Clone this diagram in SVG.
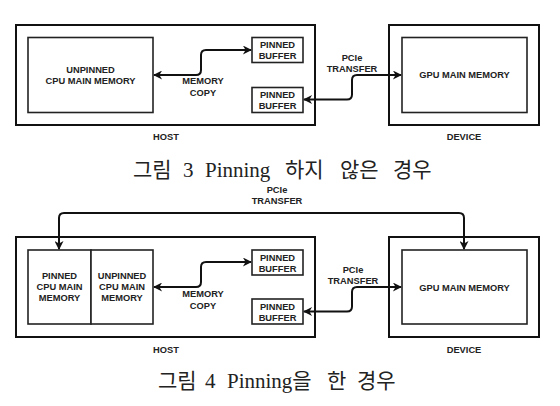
<svg xmlns="http://www.w3.org/2000/svg" width="560" height="406" viewBox="0 0 560 406">
<style>
.outer{fill:#fff;stroke:#111;stroke-width:2}
.box{fill:#fff;stroke:#222;stroke-width:1.6}
.lbl{font-family:'Liberation Sans',Arial,sans-serif;font-size:9.3px;font-weight:bold;fill:#222;text-anchor:middle}
.con{fill:none;stroke:#111;stroke-width:2;marker-start:url(#ah);marker-end:url(#ah)}
.cap{font-family:'Liberation Serif','Noto Sans CJK KR',serif;font-size:21px;fill:#222}
</style>
<defs>
<marker id="ah" viewBox="0 0 10 10" refX="9" refY="5" markerWidth="10" markerHeight="9" markerUnits="userSpaceOnUse" orient="auto-start-reverse">
<path d="M0,0 L10,5 L0,10 L3,5 z" fill="#111"/>
</marker>
</defs>
<rect width="560" height="406" fill="#fff"/>

<!-- Figure 3 -->
<g id="host1"><rect class="outer" x="16" y="25" width="299" height="100"/><text class="lbl" x="166" y="140">HOST</text></g>
<g id="device1"><rect class="outer" x="389" y="25" width="150" height="100"/><text class="lbl" x="464" y="140">DEVICE</text></g>
<g id="cpu1"><rect class="box" x="28" y="37.5" width="125" height="75"/><text class="lbl" x="90.5" y="73">UNPINNED</text><text class="lbl" x="90.5" y="84">CPU MAIN MEMORY</text></g>
<g id="buf1a"><rect class="box" x="252" y="37.5" width="51" height="25"/><text class="lbl" x="277.5" y="48">PINNED</text><text class="lbl" x="277.5" y="59">BUFFER</text></g>
<g id="buf1b"><rect class="box" x="252" y="87.5" width="51" height="25"/><text class="lbl" x="277.5" y="98">PINNED</text><text class="lbl" x="277.5" y="109">BUFFER</text></g>
<g id="gpu1"><rect class="box" x="402" y="37.5" width="125" height="75"/><text class="lbl" x="464.5" y="78">GPU MAIN MEMORY</text></g>
<g id="labels1">
<text class="lbl" x="203" y="84">MEMORY</text><text class="lbl" x="203" y="96">COPY</text>
<text class="lbl" x="352" y="61">PCIe</text><text class="lbl" x="352" y="72">TRANSFER</text>
</g>
<g id="connectors1">
<path class="con" d="M154 75 L196 75 Q201 75 201 70 L201 55 Q201 50 206 50 L251 50"/>
<path class="con" d="M304 99.5 L347 99.5 Q352 99.5 352 94.5 L352 80 Q352 75 357 75 L401 75"/>
</g>
<text class="cap" y="177"><tspan x="133">그림</tspan><tspan x="183">3</tspan><tspan x="205">Pinning</tspan><tspan x="285">하지</tspan><tspan x="340">않은</tspan><tspan x="393">경우</tspan></text>

<!-- Figure 4 -->
<g id="host2"><rect class="outer" x="16" y="237" width="299" height="100"/><text class="lbl" x="166" y="353">HOST</text></g>
<g id="device2"><rect class="outer" x="389" y="237" width="150" height="100"/><text class="lbl" x="464" y="353">DEVICE</text></g>
<g id="pcpu2"><rect class="box" x="28" y="250" width="63" height="74"/><text class="lbl" x="59.5" y="279">PINNED</text><text class="lbl" x="59.5" y="290">CPU MAIN</text><text class="lbl" x="59.5" y="301">MEMORY</text></g>
<g id="ucpu2"><rect class="box" x="91" y="250" width="62" height="74"/><text class="lbl" x="122" y="279">UNPINNED</text><text class="lbl" x="122" y="290">CPU MAIN</text><text class="lbl" x="122" y="301">MEMORY</text></g>
<g id="buf2a"><rect class="box" x="252" y="250" width="51" height="25"/><text class="lbl" x="277.5" y="260.5">PINNED</text><text class="lbl" x="277.5" y="271.5">BUFFER</text></g>
<g id="buf2b"><rect class="box" x="252" y="299" width="51" height="25"/><text class="lbl" x="277.5" y="309.5">PINNED</text><text class="lbl" x="277.5" y="320.5">BUFFER</text></g>
<g id="gpu2"><rect class="box" x="402" y="250" width="125" height="74"/><text class="lbl" x="464.5" y="291">GPU MAIN MEMORY</text></g>
<g id="labels2">
<text class="lbl" x="203" y="297">MEMORY</text><text class="lbl" x="203" y="309">COPY</text>
<text class="lbl" x="353" y="273">PCIe</text><text class="lbl" x="353" y="284">TRANSFER</text>
<text class="lbl" x="277" y="193">PCIe</text><text class="lbl" x="277" y="204">TRANSFER</text>
</g>
<g id="connectors2">
<path class="con" d="M59 249 L59 218 Q59 213 64 213 L459 213 Q464 213 464 218 L464 249"/>
<path class="con" d="M154 287 L196 287 Q201 287 201 282 L201 267 Q201 262 206 262 L251 262"/>
<path class="con" d="M304 311.5 L347 311.5 Q352 311.5 352 306.5 L352 292 Q352 287 357 287 L401 287"/>
</g>
<text class="cap" y="388"><tspan x="158">그림</tspan><tspan x="205">4</tspan><tspan x="227">Pinning을</tspan><tspan x="327">한</tspan><tspan x="357">경우</tspan></text>
</svg>
